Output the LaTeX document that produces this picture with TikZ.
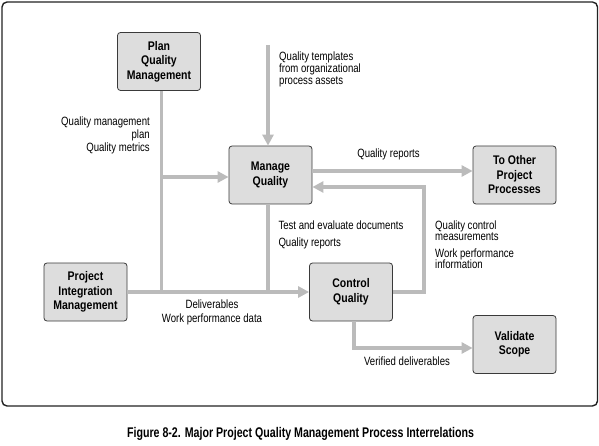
\documentclass[tikz,border=0pt]{standalone}
\usepackage{fontspec}
\setmainfont{Liberation Sans}[FakeStretch=0.80]
\newfontfamily\bx{Liberation Sans}[FakeStretch=0.84]
\newfontfamily\cx{Liberation Sans}[FakeStretch=0.76]
\usetikzlibrary{arrows.meta}
\definecolor{boxfill}{HTML}{DDDDDD}
\definecolor{boxline}{HTML}{3A3A3A}
\definecolor{flow}{HTML}{BBBBBB}
\definecolor{frame}{HTML}{222222}
\begin{document}
\begin{tikzpicture}[x=1pt,y=-1pt,
  proc/.style={draw=boxline, fill=boxfill, line width=0.8pt, rounded corners=3pt,
    minimum width=83pt, minimum height=58pt, inner sep=0pt, align=center,
    font=\bx\bfseries\fontsize{12.5}{14.5}\selectfont},
  lbl/.style={inner sep=0pt, font=\fontsize{12}{12}\selectfont},
  flowline/.style={draw=flow, line width=3.5pt, line join=miter},
  flowarrow/.style={flowline, -{Triangle[length=11pt,width=11pt]}}]
\useasboundingbox (0,0) rectangle (599,446);
\draw[frame, line width=1.4pt, rounded corners=5pt] (2,2) rectangle (597.5,406);

% process boxes
\node[proc] (plan) at (159,61.5) {Plan\\Quality\\Management};
\node[proc] (manage) at (270.5,175) {Manage\\Quality};
\node[proc] (other) at (514.5,175) {To Other\\Project\\Processes};
\node[proc] (pim) at (85.5,292) {Project\\Integration\\Management};
\node[proc] (control) at (351,292) {Control\\Quality};
\node[proc] (validate) at (514.5,344.5) {Validate\\Scope};

% junction coordinates
\coordinate (tmpl) at (268,45);
\coordinate (j1) at (161.5,292);
\coordinate (j2) at (161.5,177);
\coordinate (j3) at (268,292);
\coordinate (r1) at (424,292);
\coordinate (r2) at (424,187);
\coordinate (v1) at (354,348);

% connectors
\draw[flowline] ([xshift=2.5pt]plan.south) -- (j1);
\draw[flowarrow] (j2) -- (manage.west |- j2);
\draw[flowarrow] (tmpl) -- (tmpl |- manage.north);
\draw[flowline] (tmpl |- manage.south) -- (j3);
\draw[flowarrow] (pim.east) -- (control.west);
\draw[flowarrow] ([yshift=4pt]manage.east) -- ([yshift=4pt]other.west);
\draw[flowarrow] (control.east) -- (r1) -- (r2) -- (manage.east |- r2);
\draw[flowarrow] (v1 |- control.south) -- (v1) -- (validate.west |- v1);

% labels
\node[lbl, anchor=north west, align=left] (ltmpl) at (279,51.9)
  {Quality templates\\from organizational\\process assets};
\node[lbl, anchor=north east, align=right, font=\fontsize{12}{13}\selectfont] (lplan) at (150,116.9)
  {Quality management\\plan\\Quality metrics};
\node[lbl, anchor=base] (lqr) at (388.5,157.7) {Quality reports};
\node[lbl, anchor=north west, align=left, font=\fontsize{12}{16.8}\selectfont] (ltest) at (278.3,220.5)
  {Test and evaluate documents\\Quality reports};
\node[lbl, anchor=north west, align=left, font=\fontsize{12}{11.5}\selectfont] (lqc) at (435,220.2)
  {Quality control\\measurements\\[5pt]Work performance\\information};
\node[lbl, anchor=north, align=center, font=\fontsize{12}{14.4}\selectfont] (ldel) at (212,299.5)
  {Deliverables\\Work performance data};
\node[lbl, anchor=base] (lver) at (407,365) {Verified deliverables};
\node[lbl, anchor=base, font=\cx\bfseries\fontsize{14}{14}\selectfont] (cap) at (300.5,437.7)
  {Figure 8-2. Major Project Quality Management Process Interrelations};
\end{tikzpicture}
\end{document}
